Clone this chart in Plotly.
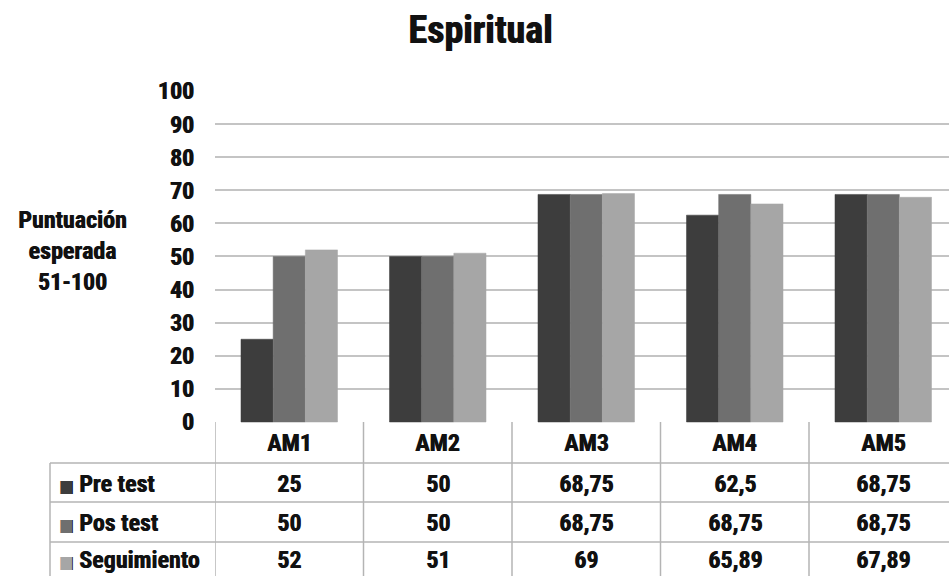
import plotly.graph_objects as go

# Chart data
categories = ["AM1", "AM2", "AM3", "AM4", "AM5"]
series_names = ["Pre test", "Pos test", "Seguimiento"]
pre_test = [25, 50, 68.75, 62.5, 68.75]
pos_test = [50, 50, 68.75, 68.75, 68.75]
seguimiento = [52, 51, 69, 65.89, 67.89]
series_values = [pre_test, pos_test, seguimiento]
series_colors = ["#3d3d3d", "#6f6f6f", "#a6a6a6"]
y_ticks = list(range(0, 101, 10))

FONT = "Roboto Condensed, DejaVu Sans Condensed, sans-serif"
INK = "#111111"
HEAVY = "0.7px 0 0 #111111"   # thickens the bold condensed face a little
W, H = 949, 576
GRID = "#c4c4c4"
TABLE_LINE = "#b4b4b4"
TXT = 24


def fmt(v):
    return f"{v:g}".replace(".", ",")


def py(p):
    """pixel row -> paper fraction"""
    return 1 - p / H


def tfont(size=TXT):
    return dict(size=size, family=FONT, color=INK, shadow=HEAVY)


fig = go.Figure()
for name, vals, col in zip(series_names, series_values, series_colors):
    fig.add_trace(go.Bar(
        x=categories, y=vals, name=name,
        marker=dict(color=col, line=dict(color=col, width=0.5)),
        showlegend=False,
    ))

# plot area geometry (pixels)
x0_px, y100_px, y0_px = 215, 91, 422
col_w = 148.5
x_max = -0.5 + (W - x0_px) / col_w
ppu = (y0_px - y100_px) / 100.0
y_lo, y_hi = -0.3, 100.3

fig.update_layout(
    width=W, height=H,
    margin=dict(l=0, r=0, t=0, b=0, pad=0),
    paper_bgcolor="white", plot_bgcolor="white",
    barmode="group", bargap=0.35, bargroupgap=0,
    font=dict(family=FONT, color=INK),
    xaxis=dict(
        domain=[x0_px / W, 1], range=[-0.5, x_max], automargin=False,
        showticklabels=False, showgrid=False, zeroline=False, showline=False,
    ),
    yaxis=dict(
        domain=[py(y0_px - y_lo * ppu), py(y100_px - (y_hi - 100) * ppu)],
        range=[y_lo, y_hi], automargin=False,
        tickvals=y_ticks, ticktext=[f"<b>{t}</b>" for t in y_ticks],
        tickfont=tfont(),
        ticks="", ticklabelstandoff=20,
        showgrid=True, gridcolor=GRID, gridwidth=1.5,
        zeroline=False, showline=False,
    ),
)

annotations = []
shapes = []

# title
annotations.append(dict(
    text="<b>Espiritual</b>", x=480 / W, y=py(30), xref="paper", yref="paper",
    showarrow=False, font=dict(size=38, family=FONT, color=INK, shadow="1px 0 0 #111111"),
    xanchor="center", yanchor="middle",
))

# y axis title
annotations.append(dict(
    text="<b>Puntuación<br>esperada<br>51-100</b>", x=72 / W, y=py(251),
    xref="paper", yref="paper", showarrow=False, align="center",
    font=tfont(), xanchor="center", yanchor="middle",
))

# data table below the axis
row_edges_px = [422, 463, 502, 542, 580]
label_left_px = 50

for i in range(len(categories) + 1):
    xv = -0.5 + i
    shapes.append(dict(type="line", xref="x", yref="paper", x0=xv, x1=xv,
                       y0=py(row_edges_px[0]), y1=py(row_edges_px[-1]),
                       line=dict(color=TABLE_LINE, width=1.5)))
for rp in row_edges_px[1:-1]:
    shapes.append(dict(type="line", xref="paper", yref="paper",
                       x0=label_left_px / W, x1=1, y0=py(rp), y1=py(rp),
                       line=dict(color=TABLE_LINE, width=1.5)))
shapes.append(dict(type="line", xref="paper", yref="paper",
                   x0=label_left_px / W, x1=label_left_px / W,
                   y0=py(row_edges_px[1]), y1=py(row_edges_px[-1]),
                   line=dict(color=TABLE_LINE, width=1.5)))

# header row
hdr_y = py((row_edges_px[0] + row_edges_px[1]) / 2)
for cat in categories:
    annotations.append(dict(text=f"<b>{cat}</b>", x=cat, y=hdr_y, xref="x", yref="paper",
                            showarrow=False, font=tfont(),
                            xanchor="center", yanchor="middle"))

# value rows with legend keys
for r, (name, vals, col) in enumerate(zip(series_names, series_values, series_colors)):
    yc = py((row_edges_px[r + 1] + min(row_edges_px[r + 2], 576)) / 2 + 1)
    annotations.append(dict(
        text=f"<span style='color:{col}; font-size:17px'>■</span> <b>{name}</b>",
        x=(label_left_px + 7) / W, y=yc, xref="paper", yref="paper",
        showarrow=False, font=tfont(),
        xanchor="left", yanchor="middle"))
    for cat, v in zip(categories, vals):
        annotations.append(dict(text=f"<b>{fmt(v)}</b>", x=cat, y=yc, xref="x", yref="paper",
                                showarrow=False, font=tfont(),
                                xanchor="center", yanchor="middle"))

fig.update_layout(annotations=annotations, shapes=shapes)
fig.write_html("out.html")
